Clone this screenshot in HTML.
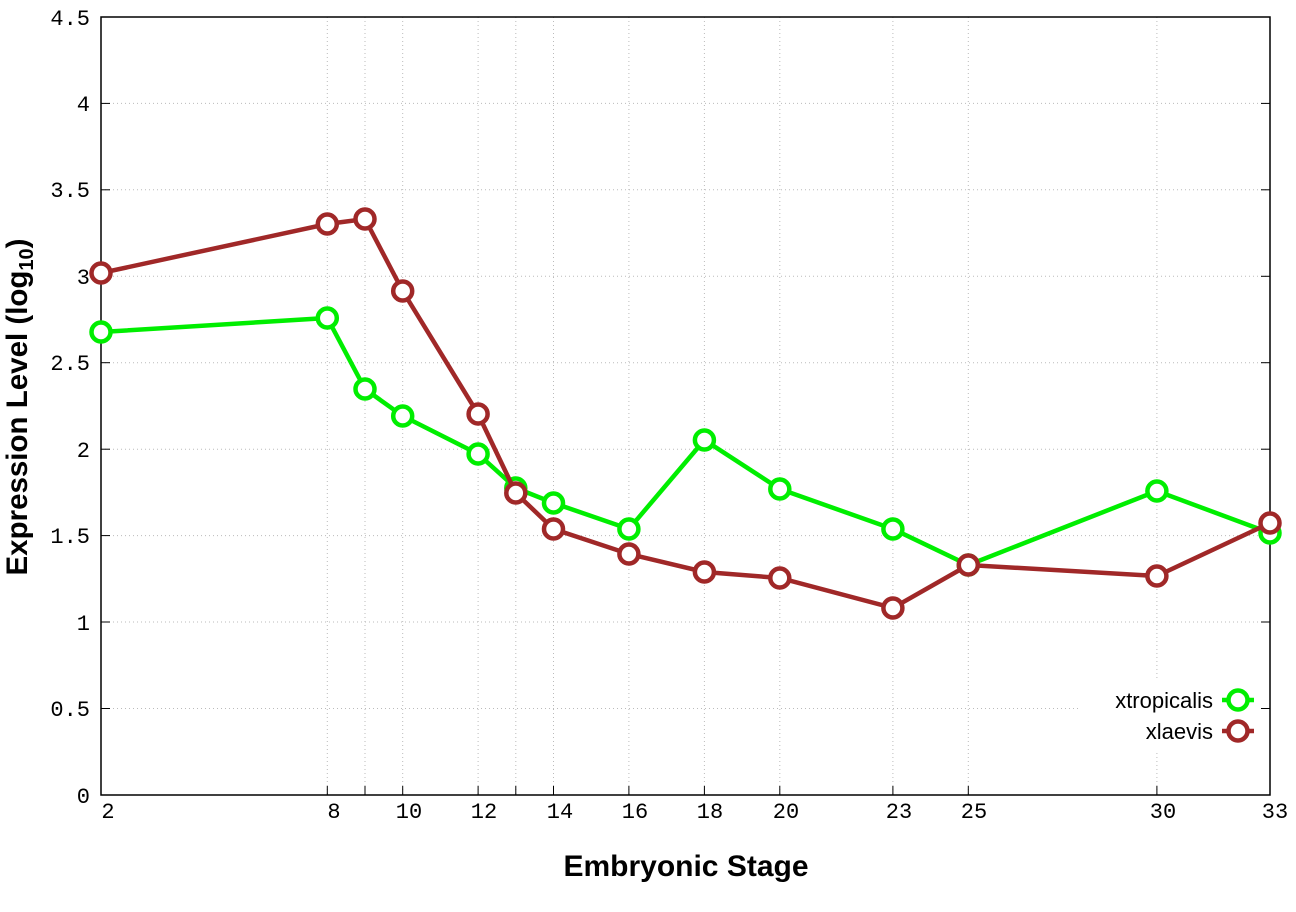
<!DOCTYPE html>
<html><head><style>body{margin:0;background:#fff}</style></head><body>
<svg width="1296" height="907" xmlns="http://www.w3.org/2000/svg">
<rect width="1296" height="907" fill="#fff"/>
<g stroke="#bbb" stroke-width="1" stroke-dasharray="1,3">
<line x1="101" y1="708.5" x2="1270" y2="708.5"/><line x1="101" y1="622" x2="1270" y2="622"/>
<line x1="101" y1="535.6" x2="1270" y2="535.6"/><line x1="101" y1="449.2" x2="1270" y2="449.2"/>
<line x1="101" y1="362.7" x2="1270" y2="362.7"/><line x1="101" y1="276.3" x2="1270" y2="276.3"/>
<line x1="101" y1="189.8" x2="1270" y2="189.8"/><line x1="101" y1="103.4" x2="1270" y2="103.4"/>
<line x1="327.3" y1="17" x2="327.3" y2="795"/><line x1="365" y1="17" x2="365" y2="795"/>
<line x1="402.7" y1="17" x2="402.7" y2="795"/><line x1="478.1" y1="17" x2="478.1" y2="795"/>
<line x1="515.8" y1="17" x2="515.8" y2="795"/><line x1="553.5" y1="17" x2="553.5" y2="795"/>
<line x1="628.9" y1="17" x2="628.9" y2="795"/><line x1="704.4" y1="17" x2="704.4" y2="795"/>
<line x1="779.8" y1="17" x2="779.8" y2="795"/><line x1="892.9" y1="17" x2="892.9" y2="795"/>
<line x1="968.3" y1="17" x2="968.3" y2="795"/><line x1="1156.9" y1="17" x2="1156.9" y2="795"/>
</g>
<rect x="1080" y="680" width="185" height="70" fill="#fff"/>
<g stroke="#000" stroke-width="1">
<line x1="101" y1="708.5" x2="110" y2="708.5"/><line x1="101" y1="622" x2="110" y2="622"/>
<line x1="101" y1="535.6" x2="110" y2="535.6"/><line x1="101" y1="449.2" x2="110" y2="449.2"/>
<line x1="101" y1="362.7" x2="110" y2="362.7"/><line x1="101" y1="276.3" x2="110" y2="276.3"/>
<line x1="101" y1="189.8" x2="110" y2="189.8"/><line x1="101" y1="103.4" x2="110" y2="103.4"/>
<line x1="1270" y1="708.5" x2="1261" y2="708.5"/><line x1="1270" y1="622" x2="1261" y2="622"/>
<line x1="1270" y1="535.6" x2="1261" y2="535.6"/><line x1="1270" y1="449.2" x2="1261" y2="449.2"/>
<line x1="1270" y1="362.7" x2="1261" y2="362.7"/><line x1="1270" y1="276.3" x2="1261" y2="276.3"/>
<line x1="1270" y1="189.8" x2="1261" y2="189.8"/><line x1="1270" y1="103.4" x2="1261" y2="103.4"/>
<line x1="327.3" y1="795" x2="327.3" y2="786"/><line x1="365" y1="795" x2="365" y2="786"/>
<line x1="402.7" y1="795" x2="402.7" y2="786"/><line x1="478.1" y1="795" x2="478.1" y2="786"/>
<line x1="515.8" y1="795" x2="515.8" y2="786"/><line x1="553.5" y1="795" x2="553.5" y2="786"/>
<line x1="628.9" y1="795" x2="628.9" y2="786"/><line x1="704.4" y1="795" x2="704.4" y2="786"/>
<line x1="779.8" y1="795" x2="779.8" y2="786"/><line x1="892.9" y1="795" x2="892.9" y2="786"/>
<line x1="968.3" y1="795" x2="968.3" y2="786"/><line x1="1156.9" y1="795" x2="1156.9" y2="786"/>
</g>
<rect x="101" y="17" width="1169" height="778" fill="none" stroke="#000" stroke-width="1.5"/>
<g font-family="Liberation Mono, monospace" font-size="22" fill="#000" text-anchor="end">
<text x="90" y="803">0</text><text x="90" y="716">0.5</text><text x="90" y="630">1</text>
<text x="90" y="543">1.5</text><text x="90" y="457">2</text><text x="90" y="370">2.5</text>
<text x="90" y="284">3</text><text x="90" y="197">3.5</text><text x="90" y="111">4</text><text x="90" y="25">4.5</text>
</g>
<g font-family="Liberation Mono, monospace" font-size="22" fill="#000" text-anchor="middle">
<text x="108" y="818">2</text><text x="334" y="818">8</text><text x="409" y="818">10</text>
<text x="484" y="818">12</text><text x="560" y="818">14</text><text x="635" y="818">16</text>
<text x="710" y="818">18</text><text x="786" y="818">20</text><text x="899" y="818">23</text>
<text x="974" y="818">25</text><text x="1163" y="818">30</text><text x="1275" y="818">33</text>
</g>
<text x="686" y="876" font-family="Liberation Sans, sans-serif" font-weight="bold" font-size="30" text-anchor="middle">Embryonic Stage</text>
<text transform="translate(27,407) rotate(-90)" font-family="Liberation Sans, sans-serif" font-weight="bold" font-size="29.5" text-anchor="middle">Expression Level (log<tspan font-size="20" dy="6">10</tspan><tspan dy="-6">)</tspan></text>
<g fill="none" stroke="#00ee00" stroke-width="4.5">
<polyline points="101,332 327.3,318 365,389 402.7,416 478.1,454 515.8,488 553.5,503 628.9,529 704.4,440 779.8,489 892.9,529 968.3,565 1156.9,491 1270,533"/>
<g fill="#fff"><circle cx="101" cy="332" r="9.5"/><circle cx="327.3" cy="318" r="9.5"/><circle cx="365" cy="389" r="9.5"/><circle cx="402.7" cy="416" r="9.5"/><circle cx="478.1" cy="454" r="9.5"/><circle cx="515.8" cy="488" r="9.5"/><circle cx="553.5" cy="503" r="9.5"/><circle cx="628.9" cy="529" r="9.5"/><circle cx="704.4" cy="440" r="9.5"/><circle cx="779.8" cy="489" r="9.5"/><circle cx="892.9" cy="529" r="9.5"/><circle cx="968.3" cy="565" r="9.5"/><circle cx="1156.9" cy="491" r="9.5"/><circle cx="1270" cy="533" r="9.5"/></g>
</g>
<g fill="none" stroke="#a02828" stroke-width="4.5">
<polyline points="101,273 327.3,224 365,219 402.7,291 478.1,414 515.8,493 553.5,529 628.9,554 704.4,572 779.8,578 892.9,608 968.3,565 1156.9,576 1270,523"/>
<g fill="#fff"><circle cx="101" cy="273" r="9.5"/><circle cx="327.3" cy="224" r="9.5"/><circle cx="365" cy="219" r="9.5"/><circle cx="402.7" cy="291" r="9.5"/><circle cx="478.1" cy="414" r="9.5"/><circle cx="515.8" cy="493" r="9.5"/><circle cx="553.5" cy="529" r="9.5"/><circle cx="628.9" cy="554" r="9.5"/><circle cx="704.4" cy="572" r="9.5"/><circle cx="779.8" cy="578" r="9.5"/><circle cx="892.9" cy="608" r="9.5"/><circle cx="968.3" cy="565" r="9.5"/><circle cx="1156.9" cy="576" r="9.5"/><circle cx="1270" cy="523" r="9.5"/></g>
</g>
<g font-family="Liberation Sans, sans-serif" font-size="22" text-anchor="end">
<text x="1213" y="708">xtropicalis</text><text x="1213" y="739">xlaevis</text>
</g>
<g stroke-width="4.5" fill="#fff">
<line x1="1222" y1="700" x2="1254" y2="700" stroke="#00ee00"/><circle cx="1238" cy="700" r="9.5" stroke="#00ee00"/>
<line x1="1222" y1="731" x2="1254" y2="731" stroke="#a02828"/><circle cx="1238" cy="731" r="9.5" stroke="#a02828"/>
</g>
</svg>
</body></html>
